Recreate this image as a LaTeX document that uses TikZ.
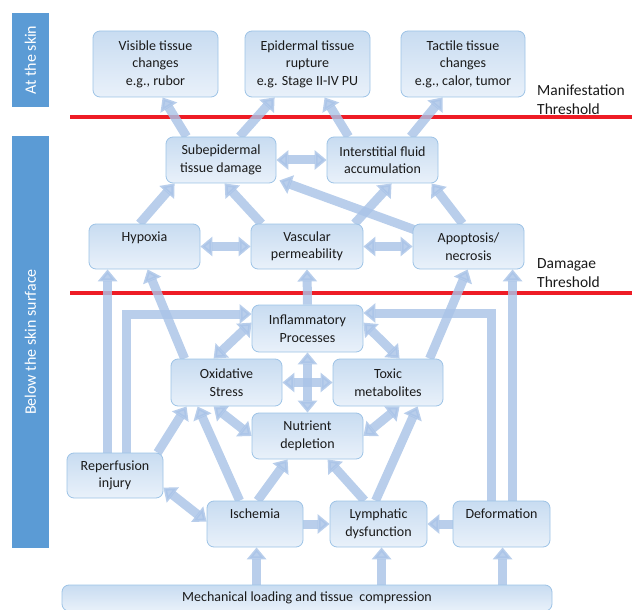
\documentclass[tikz,border=0pt]{standalone}
\usepackage{fontspec}
\setmainfont{Carlito}
\usetikzlibrary{arrows.meta}
\pgfdeclarelayer{redlayer}
\pgfdeclarelayer{arrowlayer}
\pgfsetlayers{redlayer,arrowlayer,main}
\definecolor{boxborder}{HTML}{9DC3E6}
\definecolor{boxtop}{HTML}{C8DCF1}
\definecolor{boxbot}{HTML}{E9F1FA}
\definecolor{textc}{HTML}{1A1A1A}
\definecolor{barc}{HTML}{5B9BD5}
\definecolor{arrowc}{HTML}{A9C3E7}
\definecolor{redc}{HTML}{EE1C25}
\tikzset{
  box/.style={draw=boxborder, line width=0.8pt, rounded corners=7pt,
    top color=boxtop, bottom color=boxbot, align=center, text=textc,
    font=\fontsize{14}{17.5}\selectfont, inner sep=0pt},
  sidebar/.style={fill=barc, rotate=90, text=white, inner sep=0pt,
    font=\fontsize{16}{19}\selectfont},
  lbl/.style={anchor=west, align=left, text=textc, inner sep=0pt,
    font=\fontsize{15.5}{19}\selectfont},
  redline/.style={draw=redc, line width=4pt},
  flow/.style={draw=arrowc, opacity=0.82, line width=9pt,
    -{Triangle[width=19pt,length=12pt]}},
  dflow/.style={draw=arrowc, opacity=0.82, line width=9pt,
    {Triangle[width=19pt,length=12pt]}-{Triangle[width=19pt,length=12pt]}}
}
\begin{document}
\begin{tikzpicture}[x=1pt,y=-1pt]
\useasboundingbox (0,0) rectangle (633,610);

% side bars
\node[sidebar, minimum width=94pt, minimum height=37pt] (skinbar) at (30.5,60) {At the skin};
\node[sidebar, minimum width=412pt, minimum height=37pt] (belowbar) at (30.5,342) {Below the skin surface};

% threshold labels
\node[lbl] (manif) at (537,99.5) {Manifestation\\Threshold};
\node[lbl] (damage) at (537,273.5) {Damagae\\Threshold};

% nodes
\node[box, minimum width=125pt, minimum height=66pt] (vis) at (155.5,64) {Visible tissue\\changes\\e.g., rubor};
\node[box, minimum width=125pt, minimum height=66pt] (epi) at (307.5,64) {Epidermal tissue\\rupture\\e.g. Stage II-IV PU};
\node[box, minimum width=124pt, minimum height=66pt] (tac) at (463,64) {Tactile tissue\\changes\\e.g., calor, tumor};
\node[box, minimum width=110pt, minimum height=46pt] (sub) at (221,160) {Subepidermal\\tissue damage};
\node[box, minimum width=111pt, minimum height=46pt] (int) at (382.5,160) {Interstitial fluid\\accumulation};
\node[box, minimum width=111pt, minimum height=45pt] (hyp) at (144.5,246.5) {Hypoxia\\[-3pt]\strut};
\node[box, minimum width=112pt, minimum height=45pt] (vas) at (307,246.5) {Vascular\\permeability};
\node[box, minimum width=111pt, minimum height=45pt] (apo) at (468.5,246.5) {Apoptosis/\\necrosis};
\node[box, minimum width=111pt, minimum height=47pt] (inf) at (307.5,328.5) {Inflammatory\\Processes};
\node[box, minimum width=111pt, minimum height=47pt] (oxi) at (226.5,382.5) {Oxidative\\Stress};
\node[box, minimum width=110pt, minimum height=47pt] (tox) at (388,382.5) {Toxic\\metabolites};
\node[box, minimum width=111pt, minimum height=46pt] (nut) at (307.5,436) {Nutrient\\depletion};
\node[box, minimum width=96pt, minimum height=45pt] (rep) at (115,475.5) {Reperfusion\\injury};
\node[box, minimum width=96pt, minimum height=46pt] (isc) at (255,524) {Ischemia\\[-3pt]\strut};
\node[box, minimum width=97pt, minimum height=46pt] (lym) at (378.5,524) {Lymphatic\\dysfunction};
\node[box, minimum width=97pt, minimum height=46pt] (def) at (501.5,524) {Deformation\\[-3pt]\strut};
\node[box, minimum width=490pt, minimum height=26pt] (mech) at (307,598) {Mechanical loading and tissue\ \ compression};

% red threshold lines
\begin{pgfonlayer}{redlayer}
\coordinate (m1) at (70,117);
\coordinate (m2) at (632,117);
\coordinate (d1) at (70,293);
\coordinate (d2) at (632,293);
\draw[redline] (m1) -- (m2);
\draw[redline] (d1) -- (d2);
\end{pgfonlayer}

% connectors
\begin{pgfonlayer}{arrowlayer}
\draw[flow] ([shift={(21,0)}]sub.north west) -- ([shift={(70,0)}]vis.south west);
\draw[flow] ([shift={(74,0)}]sub.north west) -- ([shift={(30,0)}]epi.south west);
\draw[flow] ([shift={(22,0)}]int.north west) -- ([shift={(80,0)}]epi.south west);
\draw[flow] ([shift={(84,0)}]int.north west) -- ([shift={(42,0)}]tac.south west);
\draw[dflow] (sub.east) -- (int.west);
\draw[flow] ([shift={(51,0)}]hyp.north west) -- ([shift={(9,0)}]sub.south west);
\draw[flow] ([shift={(11,0)}]vas.north west) -- ([shift={(59,0)}]sub.south west);
\draw[flow] ([shift={(104,0)}]vas.north west) -- ([shift={(65,0)}]int.south west);
\draw[flow] ([shift={(7,8)}]apo.north west) -- ([shift={(3,-3)}]sub.south east);
\draw[flow] ([shift={(50,0)}]apo.north west) -- ([shift={(105,0)}]int.south west);
\draw[dflow] (hyp.east) -- (vas.west);
\draw[dflow] (vas.east) -- (apo.west);
\draw[flow] (inf.north) -- (vas.south);
\draw[flow] ([shift={(41,0)}]rep.north west) -- ([shift={(19,0)}]hyp.south west);
\draw[flow] ([shift={(14,0)}]oxi.north west) -- ([shift={(59,0)}]hyp.south west);
\draw[flow] ([shift={(60,0)}]rep.north west) |- ([shift={(0,-14.5)}]inf.west);
\draw[flow] ([shift={(39,0)}]def.north west) |- ([shift={(0,-15.5)}]inf.east);
\draw[flow] ([shift={(60,0)}]def.north west) -- ([shift={(100,0)}]apo.south west);
\draw[flow] ([shift={(97,0)}]tox.north west) -- ([shift={(55,0)}]apo.south west);
\draw[dflow] ([shift={(0,18)}]inf.north west) -- ([shift={(43,0)}]oxi.north west);
\draw[dflow] ([shift={(0,18)}]inf.north east) -- ([shift={(67,0)}]tox.north west);
\draw[dflow] (oxi.east) -- (tox.west);
\draw[dflow] (inf.south) -- (nut.north);
\draw[dflow] ([shift={(43,0)}]oxi.south west) -- (nut.west);
\draw[dflow] ([shift={(67,0)}]tox.south west) -- (nut.east);
\draw[flow] ([shift={(91,0)}]rep.north west) -- ([shift={(16,0)}]oxi.south west);
\draw[flow] ([shift={(33,0)}]isc.north west) -- ([shift={(27,0)}]oxi.south west);
\draw[flow] ([shift={(51,0)}]isc.north west) -- ([shift={(36,0)}]nut.south west);
\draw[flow] ([shift={(35,0)}]lym.north west) -- ([shift={(76,0)}]nut.south west);
\draw[flow] ([shift={(46,0)}]lym.north west) -- ([shift={(85,0)}]tox.south west);
\draw[dflow] ([shift={(0,35)}]rep.north east) -- ([shift={(0,21)}]isc.north west);
\draw[flow] (isc.east) -- (lym.west);
\draw[flow] (def.west) -- (lym.east);
\draw[flow] ([shift={(195,0)}]mech.north west) -- ([shift={(50,0)}]isc.south west);
\draw[flow] ([shift={(320,0)}]mech.north west) -- ([shift={(52,0)}]lym.south west);
\draw[flow] ([shift={(441,0)}]mech.north west) -- ([shift={(50,0)}]def.south west);
\end{pgfonlayer}
\end{tikzpicture}
\end{document}
